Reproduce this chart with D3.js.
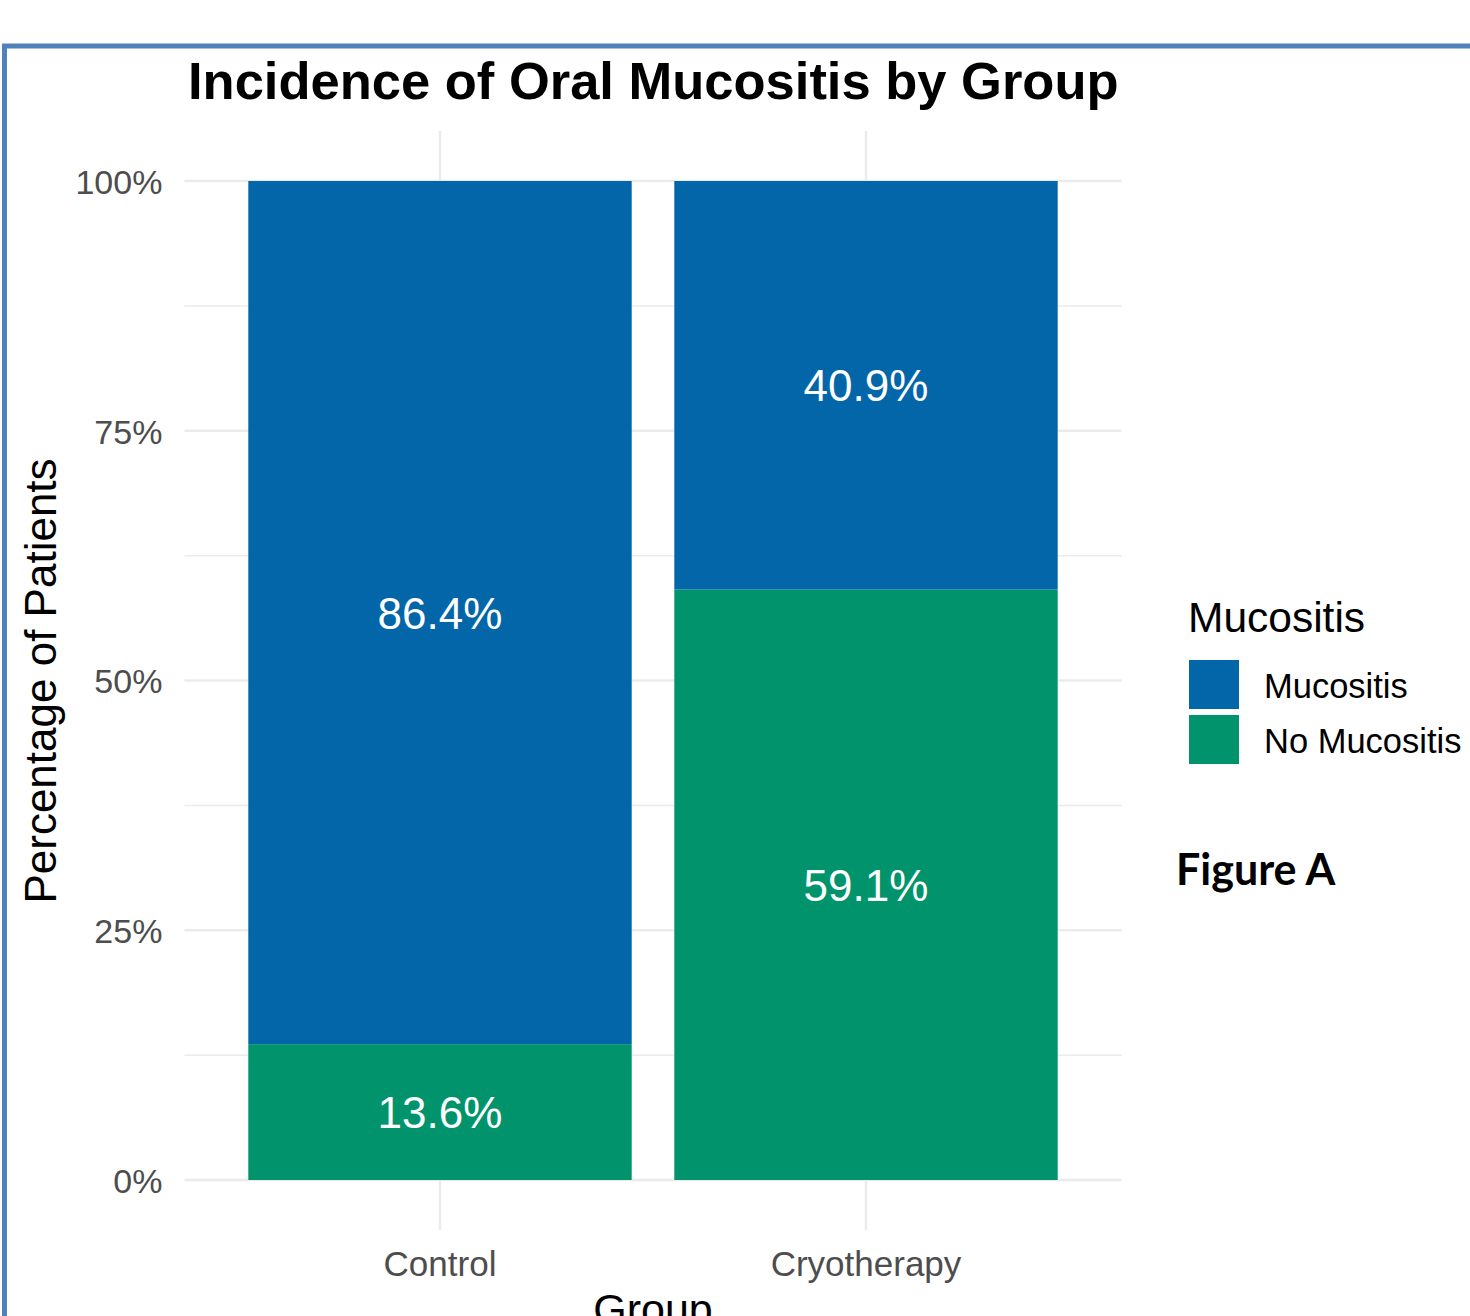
<!DOCTYPE html>
<html>
<head>
<meta charset="utf-8">
<script src="https://cdn.jsdelivr.net/npm/d3@7"></script>
<style>
  html, body { margin: 0; padding: 0; background: #fff; }
  svg { display: block; }
</style>
</head>
<body>
<svg id="chart" width="1470" height="1316"></svg>
<script>
const groups = ["Control", "Cryotherapy"];
const seriesNames = ["Mucositis", "No Mucositis"];
const mucositis = [86.4, 40.9];
const noMucositis = [13.6, 59.1];
const yTicks = [0, 25, 50, 75, 100];
const yMinorTicks = [12.5, 37.5, 62.5, 87.5];

const colors = { "Mucositis": "#0366a8", "No Mucositis": "#01946c" };
const font = "'Liberation Sans', Arial, Helvetica, sans-serif";

const svg = d3.select("#chart");

// frame border
svg.append("rect")
  .attr("x", 4.5).attr("y", 46)
  .attr("width", 1500).attr("height", 1400)
  .attr("fill", "none").attr("stroke", "#4f81bd").attr("stroke-width", 5);

const x = d3.scaleBand().domain(groups).range([184.4, 1121.6]).paddingInner(0.1).paddingOuter(0.15);
const y = d3.scaleLinear().domain([0, 100]).range([1180, 181]);
const yTop = y(105), yBot = y(-5);
const xl = 184.4, xr = 1121.6;

// grid
const grid = svg.append("g");
grid.selectAll(".minor").data(yMinorTicks).join("line")
  .attr("x1", xl).attr("x2", xr).attr("y1", d => y(d)).attr("y2", d => y(d))
  .attr("stroke", "#ebebeb").attr("stroke-width", 1.5);
grid.selectAll(".major").data(yTicks).join("line")
  .attr("x1", xl).attr("x2", xr).attr("y1", d => y(d)).attr("y2", d => y(d))
  .attr("stroke", "#ebebeb").attr("stroke-width", 2.5);
grid.selectAll(".vmajor").data(groups).join("line")
  .attr("x1", d => x(d) + x.bandwidth() / 2).attr("x2", d => x(d) + x.bandwidth() / 2)
  .attr("y1", yTop).attr("y2", yBot)
  .attr("stroke", "#ebebeb").attr("stroke-width", 2.5);

// stacked data
const rows = groups.map((g, i) => ({ group: g, "Mucositis": mucositis[i], "No Mucositis": noMucositis[i] }));
const stack = d3.stack().keys(["No Mucositis", "Mucositis"]);
const stacked = stack(rows);

const barG = svg.append("g");
stacked.forEach(layer => {
  barG.selectAll(null).data(layer).join("rect")
    .attr("x", d => x(d.data.group))
    .attr("width", x.bandwidth())
    .attr("y", d => y(d[1]))
    .attr("height", d => y(d[0]) - y(d[1]))
    .attr("fill", colors[layer.key]);
  barG.selectAll(null).data(layer).join("text")
    .attr("x", d => x(d.data.group) + x.bandwidth() / 2)
    .attr("y", d => y((d[0] + d[1]) / 2) + 16)
    .attr("text-anchor", "middle")
    .attr("font-family", font).attr("font-size", 44)
    .attr("fill", "#ffffff")
    .text(d => (d[1] - d[0]).toFixed(1) + "%");
});

// y axis
const yAxis = svg.append("g").attr("transform", `translate(${xl},0)`)
  .call(d3.axisLeft(y).tickValues(yTicks).tickFormat(d => d + "%").tickSize(0).tickPadding(22));
yAxis.select(".domain").remove();
yAxis.selectAll("text").attr("font-family", font).attr("font-size", 34).attr("fill", "#4d4d4d").attr("dy", "0.36em");

// x axis
const xAxis = svg.append("g").attr("transform", `translate(0,${yBot})`)
  .call(d3.axisBottom(x).tickSize(0).tickPadding(0));
xAxis.select(".domain").remove();
xAxis.selectAll("text").attr("font-family", font).attr("font-size", 35).attr("fill", "#4d4d4d")
  .attr("y", 46).attr("dy", 0);

// titles
svg.append("text").attr("x", 188).attr("y", 99)
  .attr("font-family", font).attr("font-size", 52.5).attr("font-weight", "bold").attr("fill", "#000")
  .text("Incidence of Oral Mucositis by Group");

svg.append("text").attr("transform", "translate(56,681) rotate(-90)")
  .attr("text-anchor", "middle")
  .attr("font-family", font).attr("font-size", 44).attr("fill", "#000")
  .text("Percentage of Patients");

svg.append("text").attr("x", (xl + xr) / 2).attr("y", 1324)
  .attr("text-anchor", "middle")
  .attr("font-family", font).attr("font-size", 43).attr("fill", "#000")
  .text("Group");

// legend
const leg = svg.append("g");
leg.append("text").attr("x", 1188).attr("y", 632)
  .attr("font-family", font).attr("font-size", 42.5).attr("fill", "#000")
  .text("Mucositis");
seriesNames.forEach((s, i) => {
  leg.append("rect").attr("x", 1189).attr("y", 660 + i * 55).attr("width", 50).attr("height", 49)
    .attr("fill", colors[s]);
  leg.append("text").attr("x", 1264).attr("y", 698 + i * 55)
    .attr("font-family", font).attr("font-size", 34.5).attr("fill", "#000")
    .text(s);
});

svg.append("text").attr("x", 1176).attr("y", 885)
  .attr("font-family", "Lato, 'Open Sans', sans-serif").attr("font-size", 43).attr("font-weight", 700)
  .attr("fill", "#000")
  .text("Figure A");
</script>
</body>
</html>
